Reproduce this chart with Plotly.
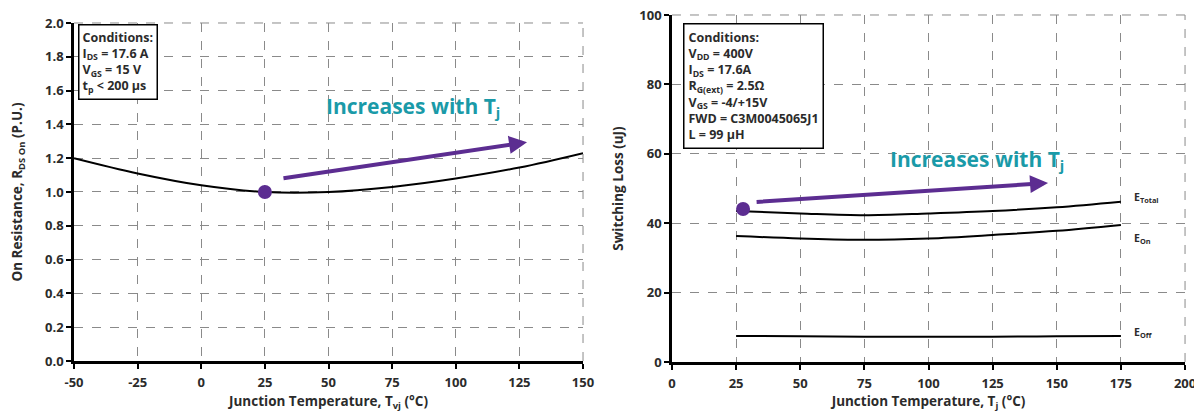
import plotly.graph_objects as go

# Left chart: normalized on-resistance vs junction temperature
temp_left = [-50, -25, 0, 25, 50, 75, 100, 125, 150]
rds_on_pu = [1.20, 1.11, 1.04, 1.00, 1.00, 1.03, 1.08, 1.145, 1.23]

# Right chart: switching loss vs junction temperature
temp_right = [25, 50, 75, 100, 125, 150, 175]
e_total = [43.5, 42.8, 42.3, 42.8, 43.5, 44.6, 46.2]
e_on = [36.3, 35.6, 35.2, 35.6, 36.6, 37.8, 39.5]
e_off = [7.5, 7.4, 7.3, 7.3, 7.3, 7.4, 7.5]

left_xticks = [-50, -25, 0, 25, 50, 75, 100, 125, 150]
left_xlabels = ["-50", "-25", "0", "25", "50", "75", "100", "125", "150"]
left_yticks = [0.0, 0.2, 0.4, 0.6, 0.8, 1.0, 1.2, 1.4, 1.6, 1.8, 2.0]
right_xticks = [0, 25, 50, 75, 100, 125, 150, 175, 200]
right_yticks = [0, 20, 40, 60, 80, 100]

FONT = "Open Sans"
TXT = "#2b2b2b"
PURPLE = "#5c2d91"
TEAL = "#1a9aa8"
GRID = "#8a8a8a"

fig = go.Figure()

fig.add_trace(go.Scatter(x=temp_left, y=rds_on_pu, mode="lines", line=dict(color="black", width=2, shape="spline"),
                         xaxis="x", yaxis="y", showlegend=False))
fig.add_trace(go.Scatter(x=[temp_left[3]], y=[rds_on_pu[3]], mode="markers",
                         marker=dict(color=PURPLE, size=14), xaxis="x", yaxis="y", showlegend=False))

for s in (e_total, e_on, e_off):
    fig.add_trace(go.Scatter(x=temp_right, y=s, mode="lines", line=dict(color="black", width=2, shape="spline"),
                             xaxis="x2", yaxis="y2", showlegend=False))
fig.add_trace(go.Scatter(x=[27.7], y=[44.1], mode="markers", marker=dict(color=PURPLE, size=14),
                         xaxis="x2", yaxis="y2", showlegend=False))

axis_common = dict(
    showline=True, linecolor="black", linewidth=2.5, mirror=False,
    ticks="outside", ticklen=5, tickwidth=2, tickcolor="black",
    showgrid=True, gridcolor=GRID, griddash="dash", gridwidth=1,
    zeroline=False, automargin=False, ticklabeloverflow="allow",
    tickfont=dict(family=FONT, size=13, color=TXT, weight="bold"),
    title_font=dict(family=FONT, size=13.5, color=TXT, weight="bold"),
)

fig.update_layout(
    width=1194, height=404,
    margin=dict(l=0, r=0, t=0, b=0),
    paper_bgcolor="white", plot_bgcolor="white",
    xaxis=dict(domain=[0.0553, 0.4816], range=[-50, 150], tickvals=left_xticks, ticktext=left_xlabels,
               ticklabelstandoff=3,
               title=dict(text="Junction Temperature, T<sub>vj</sub> (°C)", standoff=10), anchor="y", **axis_common),
    yaxis=dict(domain=[0.1262, 0.9629], range=[0, 2.0], tickvals=left_yticks, tickformat=".1f",
               title=dict(text="On Resistance, R<sub>DS On</sub> (P.U.)", standoff=20), anchor="x", **axis_common),
    xaxis2=dict(domain=[0.5561, 0.9858], range=[0, 200], tickvals=right_xticks,
                ticklabelstandoff=3,
                title=dict(text="Junction Temperature, T<sub>j</sub> (°C)", standoff=10), anchor="y2", **axis_common),
    yaxis2=dict(domain=[0.1238, 0.9827], range=[0, 100], tickvals=right_yticks,
                title=dict(text="Switching Loss (uJ)", standoff=13), anchor="x2", **axis_common),
)

# dashed frame on top/right
for xr, yr in (("x", "y"), ("x2", "y2")):
    fig.add_shape(type="line", xref=f"{xr} domain", yref=f"{yr} domain", x0=0, x1=1, y0=1, y1=1,
                  line=dict(color=GRID, width=1, dash="dash"))
    fig.add_shape(type="line", xref=f"{xr} domain", yref=f"{yr} domain", x0=1, x1=1, y0=0, y1=1,
                  line=dict(color=GRID, width=1, dash="dash"))

ann = []
# arrows
ann.append(dict(x=128, y=1.295, ax=31.7, ay=1.08, xref="x", yref="y", axref="x", ayref="y",
                showarrow=True, arrowhead=2, arrowsize=0.9, arrowwidth=4, arrowcolor=PURPLE, text=""))
ann.append(dict(x=146.6, y=51.6, ax=32.4, ay=46.1, xref="x2", yref="y2", axref="x2", ayref="y2",
                showarrow=True, arrowhead=2, arrowsize=0.9, arrowwidth=4, arrowcolor=PURPLE, text=""))
# increases text
ann.append(dict(x=83, y=1.5, xref="x", yref="y", showarrow=False, text="Increases with T<sub>j</sub>",
                font=dict(family=FONT, size=21, color=TEAL, weight="bold")))
ann.append(dict(x=119, y=58.2, xref="x2", yref="y2", showarrow=False, text="Increases with T<sub>j</sub>",
                font=dict(family=FONT, size=21, color=TEAL, weight="bold")))
# condition boxes
ann.append(dict(x=-48.5, y=1.995, xref="x", yref="y", xanchor="left", yanchor="top", showarrow=False, align="left",
                text="Conditions:<br>I<sub>DS</sub> = 17.6 A<br>V<sub>GS</sub> = 15 V<br>t<sub>p</sub> &lt; 200 µs",
                font=dict(family=FONT, size=12.5, color=TXT, weight="bold"),
                bordercolor="black", borderwidth=1.5, borderpad=3, bgcolor="white"))
ann.append(dict(x=4.3, y=97.8, xref="x2", yref="y2", xanchor="left", yanchor="top", showarrow=False, align="left",
                text=("Conditions:<br>V<sub>DD</sub> = 400V<br>I<sub>DS</sub> = 17.6A<br>R<sub>G(ext)</sub> = 2.5Ω"
                      "<br>V<sub>GS</sub> = -4/+15V<br>FWD = C3M0045065J1<br>L = 99 µH"),
                font=dict(family=FONT, size=12.5, color=TXT, weight="bold"),
                bordercolor="black", borderwidth=1.5, borderpad=4, bgcolor="white"))
# curve labels
for lab, yv in (("E<sub>Total</sub>", 47.3), ("E<sub>On</sub>", 35.7), ("E<sub>Off</sub>", 8.4)):
    ann.append(dict(x=179.3, y=yv, xref="x2", yref="y2", xanchor="left", showarrow=False, text=lab,
                    font=dict(family=FONT, size=10.5, color=TXT, weight="bold")))

fig.update_layout(annotations=ann)
fig.write_html("out.html")
